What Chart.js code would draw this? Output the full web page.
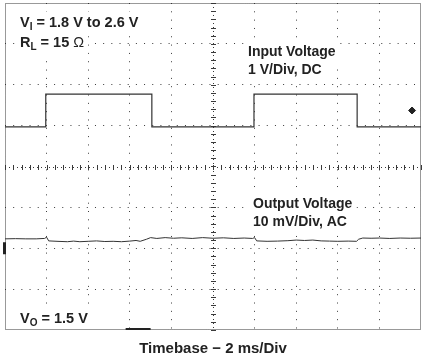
<!DOCTYPE html>
<html>
<head>
<meta charset="utf-8">
<title>Load transient - scope capture</title>
<script src="https://cdn.jsdelivr.net/npm/chart.js@4.4.1/dist/chart.umd.min.js"></script>
<style>
    html, body { margin: 0; padding: 0; background: #fff; }
    #wrap { width: 423px; height: 355px; }
</style>
</head>
<body>
<div id="wrap"><canvas id="scope" width="423" height="355"></canvas></div>
<script>
// Scope settings (x in ms, y in screen divisions)
var TIME_MIN = 0, TIME_MAX = 20, TIME_PER_DIV = 2;
var DIV_MIN = -4, DIV_MAX = 4;

// Channel 1 - input voltage, 1 V/Div, DC. Ground sits below the centre line.
var INPUT_VOLTS_PER_DIV = 1;
var INPUT_ZERO_DIV = -0.83;
var inputTimeMs = [0, 1.96, 1.96, 7.06, 7.06, 11.97, 11.97, 16.93, 16.93, 20];
var inputVolts  = [1.8, 1.8, 2.6, 2.6, 1.8, 1.8, 2.6, 2.6, 1.8, 1.8];

// Channel 2 - output voltage, 10 mV/Div, AC (mV above the channel marker)
var OUTPUT_MV_PER_DIV = 10;
var OUTPUT_ZERO_DIV = -2;
var outputTimeMs = [0, 0.5, 1.0, 1.5, 1.9, 2.0, 2.1, 2.5, 3.0, 3.3, 3.6, 4.0, 4.4, 4.8, 5.2, 5.6, 6.0, 6.3, 6.5, 6.8,
                    7.0, 7.3, 7.7, 8.1, 8.5, 9.0, 9.5, 10.0, 10.5, 11.0, 11.5, 11.9, 12.0, 12.1, 12.6, 13.1, 13.6, 14.0,
                    14.4, 14.8, 15.2, 15.6, 16.0, 16.5, 16.9, 17.0, 17.2, 17.6, 18.0, 18.5, 19.0, 19.5, 20.0];
var outputMv = [2.3, 2.35, 2.3, 2.3, 2.4, 2.7, 1.8, 1.7, 1.6, 1.75, 1.6, 1.7, 1.8, 1.65, 1.7, 1.6, 1.75, 1.9, 1.7, 2.2,
                2.6, 2.4, 2.6, 2.45, 2.55, 2.4, 2.6, 2.45, 2.55, 2.4, 2.5, 2.4, 2.6, 1.8, 1.7, 1.75, 1.85, 2.0,
                1.9, 2.0, 1.8, 1.75, 1.7, 1.75, 1.7, 2.2, 2.5, 2.45, 2.5, 2.4, 2.5, 2.45, 2.5];

// Trigger level marker on channel 1
var triggerTimeMs = [19.57];
var triggerVolts = [2.2];

var TRACE_COLOR = '#333';
var GRID_COLOR = '#3a3a3a';
var FONT_FAMILY = '"Liberation Sans", Arial, Helvetica, sans-serif';

function toPoints(xs, ys, perDiv, zeroDiv) {
    var pts = [];
    for (var i = 0; i < xs.length; i++) {
        pts.push({ x: xs[i], y: ys[i] / perDiv + zeroDiv });
    }
    return pts;
}

// Hide the edge and centre grid lines, those are drawn by the scope plugin
function gridColor(min, max, mid) {
    return function (ctx) {
        if (!ctx.tick) return GRID_COLOR;
        var v = ctx.tick.value;
        return (v === min || v === max || v === mid) ? 'rgba(0,0,0,0)' : GRID_COLOR;
    };
}

// Draw text with subscripts, parts = [[text, isSub, isThin], ...]
function drawRich(ctx, x, y, parts, size) {
    ctx.textBaseline = 'alphabetic';
    ctx.textAlign = 'left';
    for (var i = 0; i < parts.length; i++) {
        var p = parts[i];
        var sz = p[1] ? Math.round(size * 0.72) : size;
        ctx.font = (p[2] ? 'normal ' : 'bold ') + sz + 'px ' + FONT_FAMILY;
        ctx.fillText(p[0], x, p[1] ? y + 3 : y);
        x += ctx.measureText(p[0]).width;
    }
    return x;
}

function measureRich(ctx, parts, size) {
    var w = 0;
    for (var i = 0; i < parts.length; i++) {
        var p = parts[i];
        var sz = p[1] ? Math.round(size * 0.72) : size;
        ctx.font = (p[2] ? 'normal ' : 'bold ') + sz + 'px ' + FONT_FAMILY;
        w += ctx.measureText(p[0]).width;
    }
    return w;
}

// Text notes on the screen: offsets from the chart area top-left
var notes = [
    { x: 15, y: 24, size: 14.5, parts: [['V'], ['I', true], [' = 1.8 V to 2.6 V']] },
    { x: 15, y: 44, size: 14.5, parts: [['R'], ['L', true], [' = 15 '], ['\u03A9', false, true]] },
    { x: 243, y: 53, size: 14, parts: [['Input Voltage']] },
    { x: 243, y: 71, size: 14, parts: [['1 V/Div, DC']] },
    { x: 248, y: 205, size: 14, parts: [['Output Voltage']] },
    { x: 248, y: 223, size: 14, parts: [['10 mV/Div, AC']] },
    { x: 15, y: 320, size: 14.5, parts: [['V'], ['O', true], [' = 1.5 V']] }
];

var scopePlugin = {
    id: 'scopeScreen',
    beforeDatasetsDraw: function (chart) {
        var ctx = chart.ctx, a = chart.chartArea;
        var xs = chart.scales.x, ys = chart.scales.y;
        var i, t;
        ctx.save();

        // white boxes behind the notes
        ctx.fillStyle = '#fff';
        for (i = 0; i < notes.length; i++) {
            var n = notes[i];
            var w = measureRich(ctx, n.parts, n.size);
            ctx.fillRect(a.left + n.x - 4, a.top + n.y - n.size - 1, w + 8, n.size + 8);
        }

        // centre axes with minor ticks every 1/5 division
        var cx = Math.round(xs.getPixelForValue((TIME_MIN + TIME_MAX) / 2)) + 0.5;
        var cy = Math.round(ys.getPixelForValue(0)) + 0.5;
        ctx.strokeStyle = GRID_COLOR;
        ctx.lineWidth = 1;
        ctx.setLineDash([1, 3]);
        ctx.beginPath();
        ctx.moveTo(a.left, cy); ctx.lineTo(a.right, cy);
        ctx.moveTo(cx, a.top); ctx.lineTo(cx, a.bottom);
        ctx.stroke();
        ctx.setLineDash([]);
        ctx.beginPath();
        for (t = TIME_MIN; t <= TIME_MAX + 0.001; t += TIME_PER_DIV / 5) {
            var px = Math.round(xs.getPixelForValue(t)) + 0.5;
            ctx.moveTo(px, cy - 2.5); ctx.lineTo(px, cy + 2.5);
        }
        for (t = DIV_MIN; t <= DIV_MAX + 0.001; t += 0.2) {
            var py = Math.round(ys.getPixelForValue(t)) + 0.5;
            ctx.moveTo(cx - 2.5, py); ctx.lineTo(cx + 2.5, py);
        }
        ctx.stroke();

        // screen frame
        ctx.strokeStyle = '#333';
        ctx.setLineDash([1, 1]);
        ctx.strokeRect(a.left + 0.5, a.top + 0.5, a.right - a.left - 1, a.bottom - a.top - 1);
        ctx.setLineDash([]);

        // channel 2 ground marker and trigger position marker
        ctx.fillStyle = '#222';
        var gy = ys.getPixelForValue(OUTPUT_ZERO_DIV);
        ctx.fillRect(a.left - 2, gy - 6, 3, 12);
        ctx.fillRect(xs.getPixelForValue(5.8), a.bottom - 2, xs.getPixelForValue(7) - xs.getPixelForValue(5.8), 2);
        ctx.restore();
    },
    afterDraw: function (chart) {
        var ctx = chart.ctx, a = chart.chartArea;
        ctx.save();
        ctx.fillStyle = '#222';
        for (var i = 0; i < notes.length; i++) {
            var n = notes[i];
            drawRich(ctx, a.left + n.x, a.top + n.y, n.parts, n.size);
        }
        ctx.restore();
    }
};

var config = {
    type: 'line',
    data: {
        datasets: [
            {
                label: 'Input Voltage',
                data: toPoints(inputTimeMs, inputVolts, INPUT_VOLTS_PER_DIV, INPUT_ZERO_DIV),
                borderColor: TRACE_COLOR,
                borderWidth: 1.2,
                pointRadius: 0,
                tension: 0
            },
            {
                label: 'Output Voltage',
                data: toPoints(outputTimeMs, outputMv, OUTPUT_MV_PER_DIV, OUTPUT_ZERO_DIV),
                borderColor: TRACE_COLOR,
                borderWidth: 1,
                pointRadius: 0,
                tension: 0
            },
            {
                label: 'Trigger',
                data: toPoints(triggerTimeMs, triggerVolts, INPUT_VOLTS_PER_DIV, INPUT_ZERO_DIV),
                showLine: false,
                pointStyle: 'rectRot',
                pointRadius: 3.5,
                pointBackgroundColor: '#222',
                pointBorderColor: '#222'
            }
        ]
    },
    options: {
        responsive: false,
        animation: false,
        layout: { padding: { left: 5, right: 2, top: 3, bottom: 0 }, autoPadding: false },
        plugins: {
            legend: { display: false },
            tooltip: { enabled: false }
        },
        scales: {
            x: {
                type: 'linear',
                min: TIME_MIN,
                max: TIME_MAX,
                ticks: { display: false, stepSize: TIME_PER_DIV },
                grid: { color: gridColor(TIME_MIN, TIME_MAX, 10), drawTicks: false, lineWidth: 1 },
                border: { display: false, dash: [1, 7.32] },
                title: {
                    display: true,
                    text: 'Timebase \u2212 2 ms/Div',
                    color: '#222',
                    font: { family: FONT_FAMILY, size: 15, weight: 'bold' },
                    padding: { top: 10, bottom: -3 }
                }
            },
            y: {
                min: DIV_MIN,
                max: DIV_MAX,
                ticks: { display: false, stepSize: 1 },
                grid: { color: gridColor(DIV_MIN, DIV_MAX, 0), drawTicks: false, lineWidth: 1 },
                border: { display: false, dash: [1, 7.18] }
            }
        }
    },
    plugins: [scopePlugin]
};

new Chart(document.getElementById('scope').getContext('2d'), config);
</script>
</body>
</html>
